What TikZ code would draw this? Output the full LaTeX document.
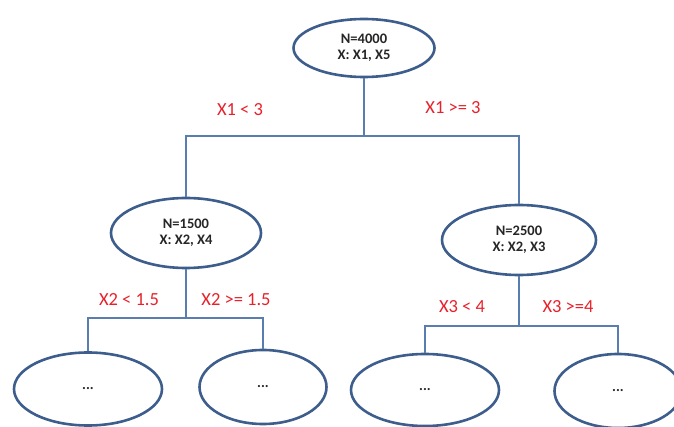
\documentclass[tikz,border=0pt]{standalone}
\usepackage{fontspec}
\setmainfont{Carlito}
\usetikzlibrary{shapes.geometric}
\definecolor{edgeblue}{HTML}{3D5E8C}
\definecolor{linkblue}{HTML}{5A7DB0}
\definecolor{labred}{HTML}{E8202A}
\tikzset{
  tnode/.style={ellipse, draw=edgeblue, line width=2.6pt, fill=white, inner sep=0pt,
    font=\bfseries\fontsize{14.5}{16}\selectfont, align=center, text=black!85},
  conn/.style={draw=linkblue, line width=1.4pt},
  cond/.style={text=labred, font=\fontsize{18.5}{20}\selectfont, inner sep=0pt}
}
\begin{document}
\begin{tikzpicture}[x=1pt,y=-1pt]
\useasboundingbox (0,0) rectangle (674,427);
% nodes
\node[tnode, minimum width=141pt, minimum height=58pt] (root) at (364,48) {N=4000\\X: X1, X5};
\node[tnode, minimum width=150pt, minimum height=70pt] (n1) at (186,233) {N=1500\\X: X2, X4};
\node[tnode, minimum width=154pt, minimum height=70pt] (n2) at (519,240) {N=2500\\X: X2, X3};
\node[tnode, minimum width=148pt, minimum height=73pt] (l1) at (88,389) {...};
\node[tnode, minimum width=127pt, minimum height=74pt] (l2) at (263,387) {...};
\node[tnode, minimum width=148pt, minimum height=72pt] (l3) at (425,390) {...};
\node[tnode, minimum width=127pt, minimum height=74pt] (l4) at (618,391) {...};
% junctions
\coordinate (j0) at (364,136);
\coordinate (j1) at (186,318);
\coordinate (j2) at (519,326);
% connectors
\draw[conn] (root.south) -- (j0);
\draw[conn] (n1.north) |- (j0) -| (n2.north);
\draw[conn] (n1.south) -- (j1);
\draw[conn] (l1.north) |- (j1) -| (l2.north);
\draw[conn] (n2.south) -- (j2);
\draw[conn] (l3.north) |- (j2) -| (l4.north);
% labels
\node[cond] (c1) at (240,110) {X1 < 3};
\node[cond] (c2) at (453,108) {X1 >= 3};
\node[cond] (c3) at (129,300) {X2 < 1.5};
\node[cond] (c4) at (236,300) {X2 >= 1.5};
\node[cond] (c5) at (462,307) {X3 < 4};
\node[cond] (c6) at (568,307) {X3 >=4};
\end{tikzpicture}
\end{document}
